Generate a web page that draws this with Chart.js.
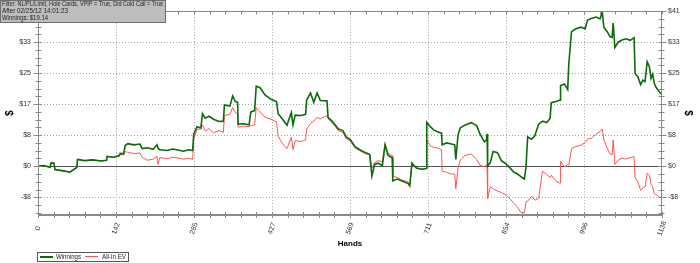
<!DOCTYPE html>
<html><head><meta charset="utf-8">
<script src="https://cdn.jsdelivr.net/npm/chart.js@4.4.0/dist/chart.umd.min.js"></script>
<style>html,body{margin:0;padding:0;background:#fff;overflow:hidden}canvas{display:block}</style>
</head><body>
<canvas id="c" width="700" height="263"></canvas>
<script>
const hands = [0,10,22,24,29,31,40,49,58,66,71,72,85,100,115,125,126,138,148,150,156,159,164,175,186,190,200,210,217,219,222,235,246,255,265,275,282,284,290,297,300,305,312,320,330,338,340,350,355,360,364,365,375,385,388,395,398,405,414,425,435,438,446,454,462,465,469,480,488,490,497,503,509,515,527,529,535,542,548,556,562,570,578,587,596,605,609,614,620,628,633,638,646,647,655,665,675,678,682,690,700,708,709,715,722,730,736,737,745,752,760,762,766,770,778,790,800,806,814,818,819,820,825,830,838,845,852,860,868,874,880,887,890,893,900,906,913,920,928,934,936,945,952,953,960,966,968,973,980,990,998,1002,1010,1018,1025,1029,1032,1038,1043,1047,1049,1052,1058,1065,1072,1080,1087,1089,1094,1099,1103,1107,1111,1115,1118,1121,1124,1128,1133,1138];
const winnings = [0,0.2,-0.3,0.9,0.8,-0.9,-1.1,-1.3,-1.6,-0.8,-0.3,1.8,1.5,1.7,1.4,1.6,2.6,2.4,2.8,3.4,3.3,5.5,6.0,5.7,5.9,4.7,4.9,4.5,5.7,4.8,4.4,4.2,4.6,4.3,4.0,4.4,4.2,8.6,10.5,10.2,14.0,12.8,13.3,12.5,11.9,12.0,16.3,16.0,18.7,17.2,17.0,11.2,11.3,11.0,14.4,14.8,21.3,20.9,19.0,17.8,17.2,14.0,12.5,10.9,14.3,11.0,13.6,13.5,13.8,17.6,19.5,17.0,19.5,17.5,17.4,13.0,12.2,11.0,9.9,9.5,7.8,7.0,5.2,4.4,3.7,3.1,-2.6,0.5,0.8,0.2,5.7,3.0,2.2,-3.9,-3.4,-4.0,-4.6,-5.2,0.8,-0.5,-0.8,-0.6,11.7,10.6,9.6,9.1,8.8,5.7,6.2,6.0,5.7,1.8,8.3,10.2,10.9,11.6,10.8,8.6,6.5,7.0,8.6,0.0,1.0,3.9,3.6,1.5,0.8,-0.3,-1.6,-2.0,-2.7,-3.4,-0.2,7.8,7.2,8.1,11.2,12.0,11.6,12.8,16.9,17.2,17.6,21.5,21.9,20.4,27.2,35.8,36.5,37.0,36.6,38.9,39.4,39.7,39.2,41.0,37.0,35.8,34.5,34.3,38.1,31.6,33.0,33.6,33.9,33.5,34.2,24.6,23.8,21.7,22.9,22.5,27.8,26.5,23.4,24.5,22.0,20.8,19.8,19.14];
const allInEv = [0,0.2,-0.3,0.9,0.8,-0.9,-1.1,-1.3,-1.6,-0.8,-0.3,1.8,1.5,1.7,1.4,1.6,2.6,2.4,2.8,3.1,3.0,3.9,3.7,3.4,3.5,2.3,1.6,1.9,2.6,0.5,2.3,2.0,2.4,2.2,1.9,2.1,1.8,7.3,9.8,9.9,11.0,9.4,10.0,8.9,9.5,9.0,13.5,13.8,15.6,14.2,13.9,10.4,10.7,10.5,10.8,11.0,15.6,14.5,13.0,12.5,11.8,8.0,6.0,4.7,7.8,4.4,6.8,6.6,7.0,9.9,11.4,12.0,13.0,12.6,13.5,12.6,11.8,10.6,9.4,9.0,7.4,6.6,4.9,4.1,3.4,3.0,-0.5,1.0,1.5,1.2,6.0,3.5,2.8,-2.6,-3.0,-3.7,-4.2,-5.2,0.5,-0.5,-0.8,-0.6,7.0,5.5,5.0,4.8,4.4,-1.3,-1.6,-2.0,-2.1,-6.0,-0.5,1.6,2.8,3.3,1.8,0.3,-0.2,0.4,-0.5,-8.6,-5.4,-6.0,-6.6,-7.0,-7.5,-8.6,-9.8,-10.8,-12.2,-12.4,-9.5,-9.3,-8.0,-9.0,-8.6,-1.3,-2.2,-3.0,-2.4,-4.0,-4.5,1.3,-0.2,0.5,0.3,4.7,5.2,5.6,6.3,7.2,7.5,8.6,9.2,9.9,7.0,4.8,3.3,3.1,7.0,0.5,1.6,2.2,1.9,2.3,2.6,-3.1,-4.2,-6.4,-5.8,-5.5,-1.8,-2.4,-4.8,-5.5,-7.3,-7.6,-8.2,-8.3];
const handTicks = [0,142.25,284.5,426.75,569,711.25,853.5,995.75,1138];
const dollarTicks = [-8.25,0,8.25,16.5,24.75,33,41.25];
const seriesNames = ['Winnings','All-in EV'];
const seriesColors = ['#0b6b0b','#ff5555'];
const infoLines = ['Filter: NL/PL/Limit, Hole Cards, VPIP = True, Did Cold Call = True','After 02/25/12 14:01:23','Winnings: $19.14'];
const X_MIN = 0, X_MAX = 1138, Y_MIN = -12.97, Y_MAX = 41.25;

const fmtDollar = v => (v < 0 ? '-$' : '$') + Math.round(Math.abs(v));
const TICK_FONT = '7px "Liberation Sans", Arial, sans-serif';

const decor = {
  id: 'decor',
  beforeDatasetsDraw(chart) {
    const {ctx, chartArea: a, scales: {x, y}} = chart;
    ctx.save();
    ctx.lineWidth = 1;
    ctx.strokeStyle = '#a6a6a6';
    ctx.setLineDash([1, 2]);
    handTicks.forEach(v => {
      if (v <= X_MIN || v >= X_MAX) return;
      const px = Math.round(x.getPixelForValue(v)) + 0.5;
      ctx.beginPath(); ctx.moveTo(px, a.top); ctx.lineTo(px, a.bottom); ctx.stroke();
    });
    dollarTicks.forEach(v => {
      if (v === 0 || v >= Y_MAX) return;
      const py = Math.round(y.getPixelForValue(v)) + 0.5;
      ctx.beginPath(); ctx.moveTo(a.left, py); ctx.lineTo(a.right, py); ctx.stroke();
    });
    ctx.setLineDash([]);
    ctx.strokeStyle = '#555';
    const z = Math.round(y.getPixelForValue(0)) + 0.5;
    ctx.beginPath(); ctx.moveTo(a.left, z); ctx.lineTo(a.right, z); ctx.stroke();
    ctx.restore();
  },
  afterDatasetsDraw(chart) {
    const {ctx, chartArea: a, scales: {x, y}} = chart;
    ctx.save();
    const axisCol = '#8a8a8a';
    ctx.strokeStyle = axisCol;
    ctx.lineWidth = 1;
    // frame lines
    const L = Math.round(a.left) + 0.5, R = Math.round(a.right) - 0.5, T = Math.round(a.top) + 0.5, B = Math.round(a.bottom);
    ctx.beginPath();
    ctx.moveTo(a.left, T); ctx.lineTo(a.right, T);
    ctx.moveTo(L, a.top); ctx.lineTo(L, a.bottom);
    ctx.moveTo(R, a.top); ctx.lineTo(R, a.bottom);
    ctx.stroke();
    ctx.fillStyle = axisCol;
    ctx.fillRect(a.left, B - 1, a.right - a.left, 2);
    // x minor/major ticks
    const xStep = (handTicks[1] - handTicks[0]) / 5;
    ctx.beginPath();
    for (let v = X_MIN; v <= X_MAX + 0.01; v += xStep) {
      const px = Math.round(x.getPixelForValue(v)) + 0.5;
      ctx.moveTo(px, B - 3); ctx.lineTo(px, B + 3);
      ctx.moveTo(px, T); ctx.lineTo(px, T + 3);
    }
    // y minor/major ticks
    const yStep = (dollarTicks[1] - dollarTicks[0]) / 4;
    for (let v = 0; v <= Y_MAX + 0.01; v += yStep) addY(v);
    for (let v = -yStep; v >= Y_MIN; v -= yStep) addY(v);
    function addY(v) {
      const py = Math.round(y.getPixelForValue(v)) + 0.5;
      const major = Math.abs(v / dollarTicks[2] - Math.round(v / dollarTicks[2])) < 0.01;
      const ext = major ? 5 : 3;
      ctx.moveTo(L - ext, py); ctx.lineTo(L + 3, py);
      ctx.moveTo(R - 3, py); ctx.lineTo(R + ext, py);
    }
    ctx.stroke();
    // x labels rotated
    ctx.fillStyle = '#333';
    ctx.font = TICK_FONT;
    ctx.textAlign = 'center';
    ctx.textBaseline = 'middle';
    handTicks.forEach(v => {
      const px = x.getPixelForValue(v);
      ctx.save();
      ctx.translate(px, 228.5);
      ctx.rotate(-70 * Math.PI / 180);
      ctx.fillText(String(Math.round(v)), 0, 0);
      ctx.restore();
    });
    // info box
    ctx.fillStyle = '#bdbdbd';
    ctx.fillRect(0, 0, 166, 23);
    ctx.strokeStyle = '#6e6e6e';
    ctx.strokeRect(0.5, 0.5, 165, 22);
    ctx.fillStyle = '#1e1e1e';
    ctx.font = '6.5px "Liberation Sans", Arial, sans-serif';
    ctx.textAlign = 'left';
    ctx.textBaseline = 'middle';
    const widths = [161, 66, 46];
    infoLines.forEach((t, i) => {
      const w = ctx.measureText(t).width;
      ctx.fillText(t, 2, 4.5 + i * 7, Math.min(w, widths[i]));
    });
    // legend
    ctx.fillStyle = '#fff';
    ctx.fillRect(37, 252, 91, 10);
    ctx.strokeStyle = '#555';
    ctx.strokeRect(37.5, 252.5, 91, 9);
    ctx.lineWidth = 2;
    ctx.strokeStyle = seriesColors[0];
    ctx.beginPath(); ctx.moveTo(40, 257); ctx.lineTo(53, 257); ctx.stroke();
    ctx.lineWidth = 1;
    ctx.strokeStyle = seriesColors[1];
    ctx.beginPath(); ctx.moveTo(85, 256.5); ctx.lineTo(98, 256.5); ctx.stroke();
    ctx.fillStyle = '#222';
    ctx.font = '6.5px "Liberation Sans", Arial, sans-serif';
    ctx.fillText(seriesNames[0], 56, 257, 25);
    ctx.fillText(seriesNames[1], 102, 257, 24);
    ctx.restore();
  }
};

const yTitle = (pad) => ({display: true, text: '$', color: '#000', font: {family: '"Liberation Sans", Arial, sans-serif', size: 10, weight: 'bold'}, padding: {top: pad, bottom: 0}});

new Chart(document.getElementById('c'), {
  type: 'line',
  data: {
    datasets: [
      {label: seriesNames[0], data: hands.map((h, i) => ({x: h, y: winnings[i]})), borderColor: seriesColors[0], borderWidth: 1.6, pointRadius: 0, tension: 0, fill: false, yAxisID: 'y'},
      {label: seriesNames[1], data: hands.map((h, i) => ({x: h, y: allInEv[i]})), borderColor: seriesColors[1], borderWidth: 1, pointRadius: 0, tension: 0, fill: false, yAxisID: 'y'}
    ]
  },
  options: {
    responsive: false,
    devicePixelRatio: 1,
    animation: false,
    events: [],
    layout: {padding: {top: 6, left: 0, right: 0, bottom: 0}},
    plugins: {legend: {display: false}, tooltip: {enabled: false}},
    scales: {
      x: {
        type: 'linear', position: 'bottom', min: X_MIN, max: X_MAX,
        grid: {display: false, drawTicks: false}, border: {display: false},
        ticks: {display: false},
        afterBuildTicks: s => { s.ticks = handTicks.map(v => ({value: v})); },
        afterFit: s => { s.height = 48; },
        title: {display: true, text: 'Hands', color: '#000', font: {family: '"Liberation Sans", Arial, sans-serif', size: 8, weight: 'bold'}, padding: {top: 0, bottom: 14}}
      },
      y: {
        type: 'linear', position: 'left', min: Y_MIN, max: Y_MAX,
        grid: {display: false, drawTicks: false}, border: {display: false},
        ticks: {color: '#333', font: {family: '"Liberation Sans", Arial, sans-serif', size: 7}, padding: 7, callback: v => fmtDollar(v)},
        afterBuildTicks: s => { s.ticks = dollarTicks.map(v => ({value: v})); },
        afterFit: s => { s.width = 38; },
        title: yTitle(4)
      },
      y2: {
        type: 'linear', position: 'right', min: Y_MIN, max: Y_MAX, display: true,
        grid: {display: false, drawTicks: false}, border: {display: false},
        ticks: {color: '#333', font: {family: '"Liberation Sans", Arial, sans-serif', size: 7}, padding: 6, callback: v => fmtDollar(v)},
        afterBuildTicks: s => { s.ticks = dollarTicks.map(v => ({value: v})); },
        afterFit: s => { s.width = 38; },
        title: yTitle(6)
      }
    }
  },
  plugins: [decor]
});
</script>
</body></html>
